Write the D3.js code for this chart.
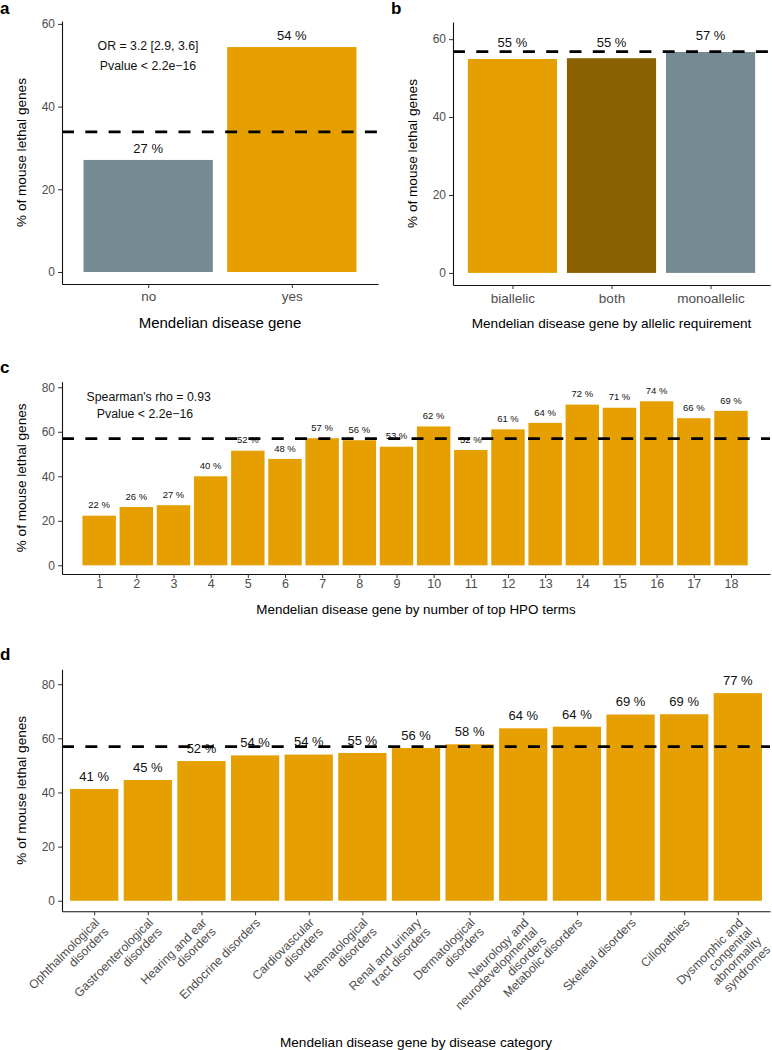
<!DOCTYPE html>
<html>
<head>
<meta charset="utf-8">
<script src="https://cdn.jsdelivr.net/npm/d3@7"></script>
<style>
  body { margin: 0; background: #fff; }
  svg text { font-family: "Liberation Sans", Arial, Helvetica, sans-serif; }
</style>
</head>
<body>
<div class="container"></div>
<script>
const width = 772;
const height = 1050;

const orange = "#E69F00";
const brown = "#8B6000";
const slate = "#768B91";

// panel a
const mendelian = ["no", "yes"];
const mendelianPct = [27.1, 54.4];
const mendelianFill = [slate, orange];

// panel b
const allelic = ["biallelic", "both", "monoallelic"];
const allelicPct = [54.9, 55.1, 56.7];
const allelicFill = [orange, brown, slate];

// panel c
const hpoTerms = ["1", "2", "3", "4", "5", "6", "7", "8", "9", "10", "11", "12", "13", "14", "15", "16", "17", "18"];
const hpoPct = [22.3, 26.2, 27.0, 40.0, 51.5, 47.8, 57.1, 56.2, 53.3, 62.4, 51.8, 61.1, 64.0, 72.2, 70.8, 73.7, 66.1, 69.4];

// panel d
const categories = [
  "Ophthalmological\ndisorders", "Gastroenterological\ndisorders", "Hearing and ear\ndisorders",
  "Endocrine disorders", "Cardiovascular\ndisorders", "Haematological\ndisorders",
  "Renal and urinary\ntract disorders", "Dermatological\ndisorders",
  "Neurology and\nneurodevelopmental\ndisorders", "Metabolic disorders", "Skeletal disorders",
  "Ciliopathies", "Dysmorphic and\ncongenital\nabnormality\nsyndromes"
];
const categoryPct = [41.3, 44.6, 51.6, 53.7, 54.0, 54.6, 56.4, 57.8, 63.7, 64.3, 68.8, 68.9, 76.7];

// dashed reference lines (overall % lethal)
const refLines = [33.9, 56.8, 56.9, 56.9];
const yTicksAB = [0, 20, 40, 60];
const yTicksCD = [0, 20, 40, 60, 80];

const svg = d3.select(".container").append("svg").attr("width", width).attr("height", height);

function panel(o) {
  const g = svg.append("g");
  const x = d3.scaleLinear().domain(o.xDomain).range([o.left, o.right]);
  const y = d3.scaleLinear().domain(o.yDomain).range([o.bottom, o.top]);
  const bw = 0.9 * (x(1) - x(0));
  const data = o.vals.map((v, i) => ({ pos: i + 1, v: v, cat: o.cats[i], fill: o.fills ? o.fills[i] : orange }));

  g.selectAll("rect").data(data).enter().append("rect")
      .attr("x", d => x(d.pos) - bw / 2)
      .attr("width", bw)
      .attr("y", d => y(d.v))
      .attr("height", d => y(0) - y(d.v))
      .attr("fill", d => d.fill);

  g.selectAll(".lab").data(data).enter().append("text")
      .attr("class", "lab")
      .attr("x", d => x(d.pos))
      .attr("y", d => y(d.v + o.labOffset))
      .attr("text-anchor", "middle")
      .attr("font-size", o.labSize)
      .attr("fill", "#111")
      .text(d => Math.round(d.v) + " %");

  (o.notes || []).forEach(n => {
    g.append("text").attr("x", n.x).attr("y", n.y).attr("text-anchor", "middle")
        .attr("font-size", 12.3).attr("fill", "#111").text(n.text);
  });

  g.append("line")
      .attr("x1", o.left).attr("x2", o.right)
      .attr("y1", y(o.ref)).attr("y2", y(o.ref))
      .attr("stroke", "#000").attr("stroke-width", 2.8)
      .attr("stroke-dasharray", "12,11.3");

  const yAxis = g.append("g").attr("transform", `translate(${o.left},0)`)
      .call(d3.axisLeft(y).tickValues(o.yTicks).tickSize(4).tickPadding(3).tickSizeOuter(0));
  yAxis.selectAll("text").attr("font-size", 12).attr("fill", "#4D4D4D").attr("font-family", null);

  const xAxis = g.append("g").attr("transform", `translate(0,${o.bottom})`)
      .call(d3.axisBottom(x).tickValues(data.map(d => d.pos)).tickSize(4).tickPadding(o.tickPad)
        .tickSizeOuter(0).tickFormat(p => o.rotate ? "" : o.cats[p - 1]));
  xAxis.selectAll("text").attr("font-size", o.tickFont).attr("fill", "#4D4D4D").attr("font-family", null);

  [yAxis, xAxis].forEach(a => {
    a.select(".domain").attr("stroke", "#111").attr("stroke-width", 1.1);
    a.selectAll(".tick line").attr("stroke", "#333").attr("stroke-width", 1);
  });

  if (o.rotate) {
    const lg = g.selectAll(".rot").data(data).enter().append("text")
        .attr("class", "rot")
        .attr("transform", d => `translate(${x(d.pos)},${o.bottom + 6}) rotate(-45)`)
        .attr("text-anchor", "end")
        .attr("font-size", o.tickFont)
        .attr("fill", "#4D4D4D");
    lg.each(function(d) {
      d.cat.split("\n").forEach((line, i) => {
        d3.select(this).append("tspan").attr("x", 0)
            .attr("dy", i === 0 ? "0.7em" : 12.8).text(line);
      });
    });
  }

  g.append("text")
      .attr("x", (o.left + o.right) / 2).attr("y", o.titleY)
      .attr("text-anchor", "middle").attr("font-size", o.titleSize).attr("fill", "#000")
      .text(o.title);

  g.append("text")
      .attr("transform", `translate(${o.yTitleX},${(o.top + o.bottom) / 2}) rotate(-90)`)
      .attr("text-anchor", "middle").attr("font-size", 13.6).attr("fill", "#000")
      .text("% of mouse lethal genes");

  g.append("text")
      .attr("x", o.letterX).attr("y", o.letterY)
      .attr("font-size", 17).attr("font-weight", "bold").attr("fill", "#000")
      .text(o.letter);
}

panel({
  cats: mendelian, vals: mendelianPct, fills: mendelianFill, ref: refLines[0],
  left: 62, right: 378, top: 21, bottom: 284, xDomain: [0.4, 2.6], yDomain: [-2.9, 60.7],
  yTicks: yTicksAB, labOffset: 1.8, labSize: 13, tickFont: 13.5, tickPad: 3.8,
  title: "Mendelian disease gene", titleSize: 15, titleY: 328, yTitleX: 26,
  letter: "a", letterX: 0, letterY: 14,
  notes: [{ x: 148, y: 50, text: "OR = 3.2 [2.9, 3.6]" }, { x: 148, y: 70, text: "Pvalue < 2.2e\u221216" }]
});

panel({
  cats: allelic, vals: allelicPct, fills: allelicFill, ref: refLines[1],
  left: 453, right: 770, top: 22, bottom: 285, xDomain: [0.4, 3.6], yDomain: [-3.1, 64.4],
  yTicks: yTicksAB, labOffset: 3, labSize: 13, tickFont: 13.5, tickPad: 4.4,
  title: "Mendelian disease gene by allelic requirement", titleSize: 13.6, titleY: 328, yTitleX: 417,
  letter: "b", letterX: 391, letterY: 14
});

panel({
  cats: hpoTerms, vals: hpoPct, ref: refLines[2],
  left: 62, right: 770, top: 381.7, bottom: 574, xDomain: [0, 19.05], yDomain: [-3.9, 82.5],
  yTicks: yTicksCD, labOffset: 3.3, labSize: 9.5, tickFont: 12.5, tickPad: 1.4,
  title: "Mendelian disease gene by number of top HPO terms", titleSize: 13.4, titleY: 614, yTitleX: 26,
  letter: "c", letterX: 0, letterY: 373,
  notes: [{ x: 148.7, y: 401, text: "Spearman's rho = 0.93" }, { x: 145, y: 418, text: "Pvalue < 2.2e\u221216" }]
});

panel({
  cats: categories, vals: categoryPct, ref: refLines[3], rotate: true,
  left: 62, right: 770, top: 669.3, bottom: 911.3, xDomain: [0.4, 13.6], yDomain: [-3.9, 85.5],
  yTicks: yTicksCD, labOffset: 3, labSize: 13, tickFont: 12.2, tickPad: 3,
  title: "Mendelian disease gene by disease category", titleSize: 13.6, titleY: 1046.5, yTitleX: 26,
  letter: "d", letterX: 0, letterY: 660
});
</script>
</body>
</html>
